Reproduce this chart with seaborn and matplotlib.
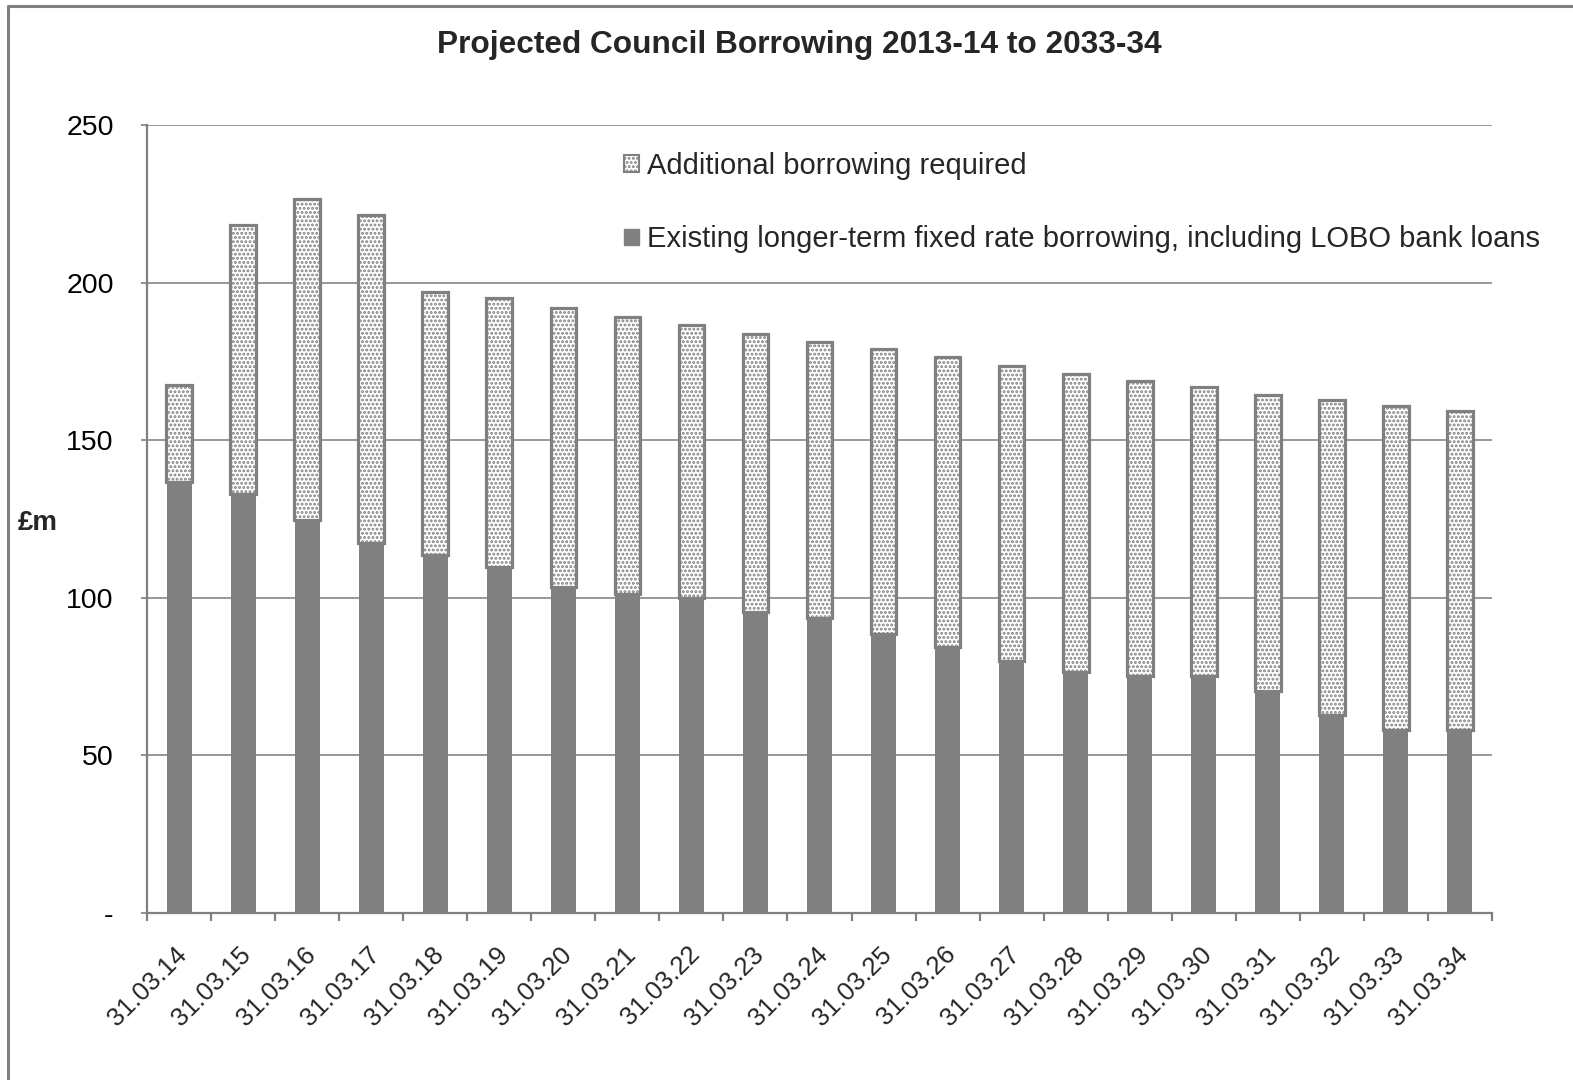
import matplotlib
matplotlib.use("Agg")
import matplotlib.pyplot as plt
from matplotlib.lines import Line2D
from matplotlib.patches import Patch
from matplotlib.transforms import ScaledTranslation
from matplotlib.ticker import FixedLocator, FixedFormatter
import seaborn as sns
import pandas as pd

# ---- data ----
dates = ["31.03.14", "31.03.15", "31.03.16", "31.03.17", "31.03.18", "31.03.19",
         "31.03.20", "31.03.21", "31.03.22", "31.03.23", "31.03.24", "31.03.25",
         "31.03.26", "31.03.27", "31.03.28", "31.03.29", "31.03.30", "31.03.31",
         "31.03.32", "31.03.33", "31.03.34"]
existing = [136.7, 132.9, 124.7, 117.4, 113.6, 109.8, 103.4, 101.2, 99.9, 95.5,
            93.6, 88.5, 84.4, 79.9, 76.5, 75.2, 75.2, 70.4, 62.8, 58.1, 58.1]
total = [167.5, 218.3, 226.5, 221.4, 197.0, 195.1, 191.9, 189.1, 186.5, 183.7,
         181.2, 178.9, 176.4, 173.5, 171.0, 168.8, 166.9, 164.3, 162.8, 160.8, 159.3]
additional = [t - e for t, e in zip(total, existing)]
ytick_vals = [0, 50, 100, 150, 200, 250]
ytick_labels = ["-", "50", "100", "150", "200", "250"]
title = "Projected Council Borrowing 2013-14 to 2033-34"
label_add = "Additional borrowing required"
label_exist = "Existing longer-term fixed rate borrowing, including LOBO bank loans"

df = pd.DataFrame({"date": dates, "existing": existing, "additional": additional})

GRAY = "#808080"

sns.set_theme(style="white")
plt.rcParams['font.family'] = ['Liberation Sans', 'DejaVu Sans']
plt.rcParams['hatch.color'] = GRAY
plt.rcParams['hatch.linewidth'] = 1.4

W, H = 1573, 1080
fig = plt.figure(figsize=(W / 100, H / 100), dpi=100)
ax = fig.add_axes([147 / W, 1 - 913 / H, 1345 / W, 788 / H])

sns.barplot(data=df, x="date", y="existing", color=GRAY, saturation=1,
            width=0.39, linewidth=0, errorbar=None, ax=ax)
sns.barplot(data=df, x="date", y="additional", bottom=df["existing"].values,
            color="white", saturation=1, edgecolor=GRAY, linewidth=2.3,
            hatch="....", width=0.40, errorbar=None, ax=ax)

ax.set_xlim(-0.5, len(dates) - 0.5)
ax.set_ylim(0, 250)
ax.set_xlabel("")
ax.set_ylabel("")

# grid
ax.yaxis.grid(True, color="#868686", linewidth=1.2)
ax.set_axisbelow(True)
for s in ["top", "right"]:
    ax.spines[s].set_visible(False)
for s in ["left", "bottom"]:
    ax.spines[s].set_color(GRAY)
    ax.spines[s].set_linewidth(1.6)

ax.yaxis.set_major_locator(FixedLocator(ytick_vals))
ax.yaxis.set_major_formatter(FixedFormatter(ytick_labels))
ax.tick_params(axis="y", which="major", length=4, width=1.2, color=GRAY,
               pad=20, labelsize=20.5, left=True)

ax.xaxis.set_minor_locator(FixedLocator([i - 0.5 for i in range(len(dates) + 1)]))
ax.tick_params(axis="x", which="minor", length=6, width=1.6, color=GRAY,
               bottom=True, direction="out")
ax.tick_params(axis="x", which="major", length=0, pad=21, labelsize=18.5)
for lbl in ax.get_xticklabels():
    lbl.set_rotation(45)
    lbl.set_ha("right")
    lbl.set_va("top")
    lbl.set_rotation_mode("anchor")
    lbl.set_transform(lbl.get_transform() + ScaledTranslation(-4 / 100, 0, fig.dpi_scale_trans))
for lbl in ax.get_yticklabels():
    lbl.set_color("black")

# legend
handles = [Patch(facecolor="white", edgecolor=GRAY, hatch="....", linewidth=1.5),
           Patch(facecolor=GRAY, edgecolor=GRAY)]
ax.legend(handles, [label_add, label_exist], loc="upper left",
          bbox_to_anchor=(624 / W, 1 - 152 / H), bbox_transform=fig.transFigure,
          frameon=False, fontsize=21, handlelength=0.5, handleheight=0.5,
          handletextpad=0.3, labelspacing=1.55, borderpad=0, borderaxespad=0)

# titles
fig.text(799 / W, 1 - 45 / H, title, ha="center", va="center",
         fontsize=22.8, fontweight="bold")
fig.text(18 / W, 1 - 523 / H, "£m", ha="left", va="center",
         fontsize=20, fontweight="bold")

# figure border (top and left)
fig.add_artist(Line2D([8 / W, 1], [1 - 6 / H, 1 - 6 / H], transform=fig.transFigure,
                      color=GRAY, linewidth=2.2))
fig.add_artist(Line2D([8 / W, 8 / W], [0, 1 - 6 / H], transform=fig.transFigure,
                      color=GRAY, linewidth=2.2))

fig.savefig("out.png", dpi=100, facecolor="white")
